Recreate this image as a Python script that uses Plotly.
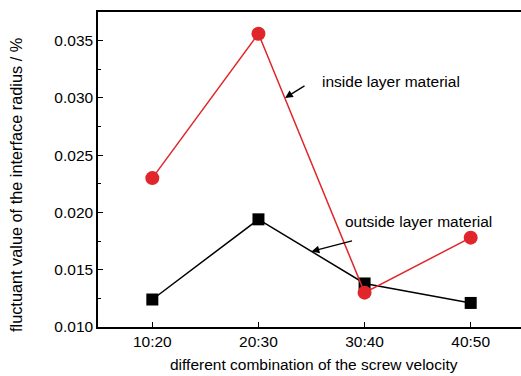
import plotly.graph_objects as go

categories = ["10:20", "20:30", "30:40", "40:50"]
inside_layer = [0.0230, 0.0356, 0.0130, 0.0178]
outside_layer = [0.0124, 0.0194, 0.0138, 0.0121]
y_ticks = [0.010, 0.015, 0.020, 0.025, 0.030, 0.035]

FONT = "Liberation Sans Narrow, Arial Narrow, Liberation Sans, Arial, sans-serif"
RED = "#e0262a"

fig = go.Figure()
fig.add_trace(go.Scatter(
    x=categories, y=outside_layer, mode="lines+markers",
    line=dict(color="black", width=1.5),
    marker=dict(symbol="square", size=12, color="black"),
    name="outside layer material", showlegend=False))
fig.add_trace(go.Scatter(
    x=categories, y=inside_layer, mode="lines+markers",
    line=dict(color=RED, width=1.5),
    marker=dict(symbol="circle", size=14, color=RED),
    name="inside layer material", showlegend=False))

fig.update_layout(
    width=521, height=376,
    margin=dict(l=98, r=0, t=12, b=49),
    plot_bgcolor="white", paper_bgcolor="white",
    font=dict(family=FONT, size=15.5, color="black"),
    xaxis=dict(
        type="category", range=[-0.512, 3.474],
        showline=True, linecolor="black", linewidth=1.5, mirror=True,
        ticks="inside", ticklen=5, tickwidth=1, tickcolor="black",
        showgrid=False, zeroline=False,
        tickfont=dict(size=15.5),
    ),
    yaxis=dict(
        range=[0.010, 0.0375], tickvals=y_ticks, tickformat=".3f",
        showline=True, linecolor="black", linewidth=1.5,
        ticks="inside", ticklen=5, tickwidth=1, tickcolor="black",
        minor=dict(dtick=0.0025, ticks="inside", ticklen=3, tickcolor="black"),
        showgrid=False, zeroline=False,
        tickfont=dict(size=15.5),
    ),
)

# axis titles
fig.add_annotation(xref="paper", yref="paper", x=0.5106, y=-0.1206,
                   text="different combination of the screw velocity",
                   showarrow=False, xanchor="center", yanchor="middle",
                   font=dict(size=15.5))
fig.add_annotation(xref="paper", yref="paper", x=-0.1939, y=0.4508,
                   text="fluctuant value of the interface radius / %",
                   textangle=-90, showarrow=False,
                   xanchor="center", yanchor="middle",
                   font=dict(size=16.3))

# series labels with arrows
fig.add_annotation(x=1.25, y=0.0300, ax=21, ay=-13,
                   showarrow=True, arrowhead=2, arrowsize=1.2, arrowwidth=1.3,
                   arrowcolor="black", text="")
fig.add_annotation(x=1.58, y=0.03142, text="inside layer material",
                   showarrow=False, xanchor="left", yanchor="middle",
                   font=dict(size=15.5))
fig.add_annotation(x=1.5, y=0.0166, ax=42, ay=-11,
                   showarrow=True, arrowhead=2, arrowsize=1.2, arrowwidth=1.3,
                   arrowcolor="black", text="")
fig.add_annotation(x=1.795, y=0.01918, text="outside layer material",
                   showarrow=False, xanchor="left", yanchor="middle",
                   font=dict(size=15.5))

fig.write_html("out.html", config=dict(displayModeBar=False))
